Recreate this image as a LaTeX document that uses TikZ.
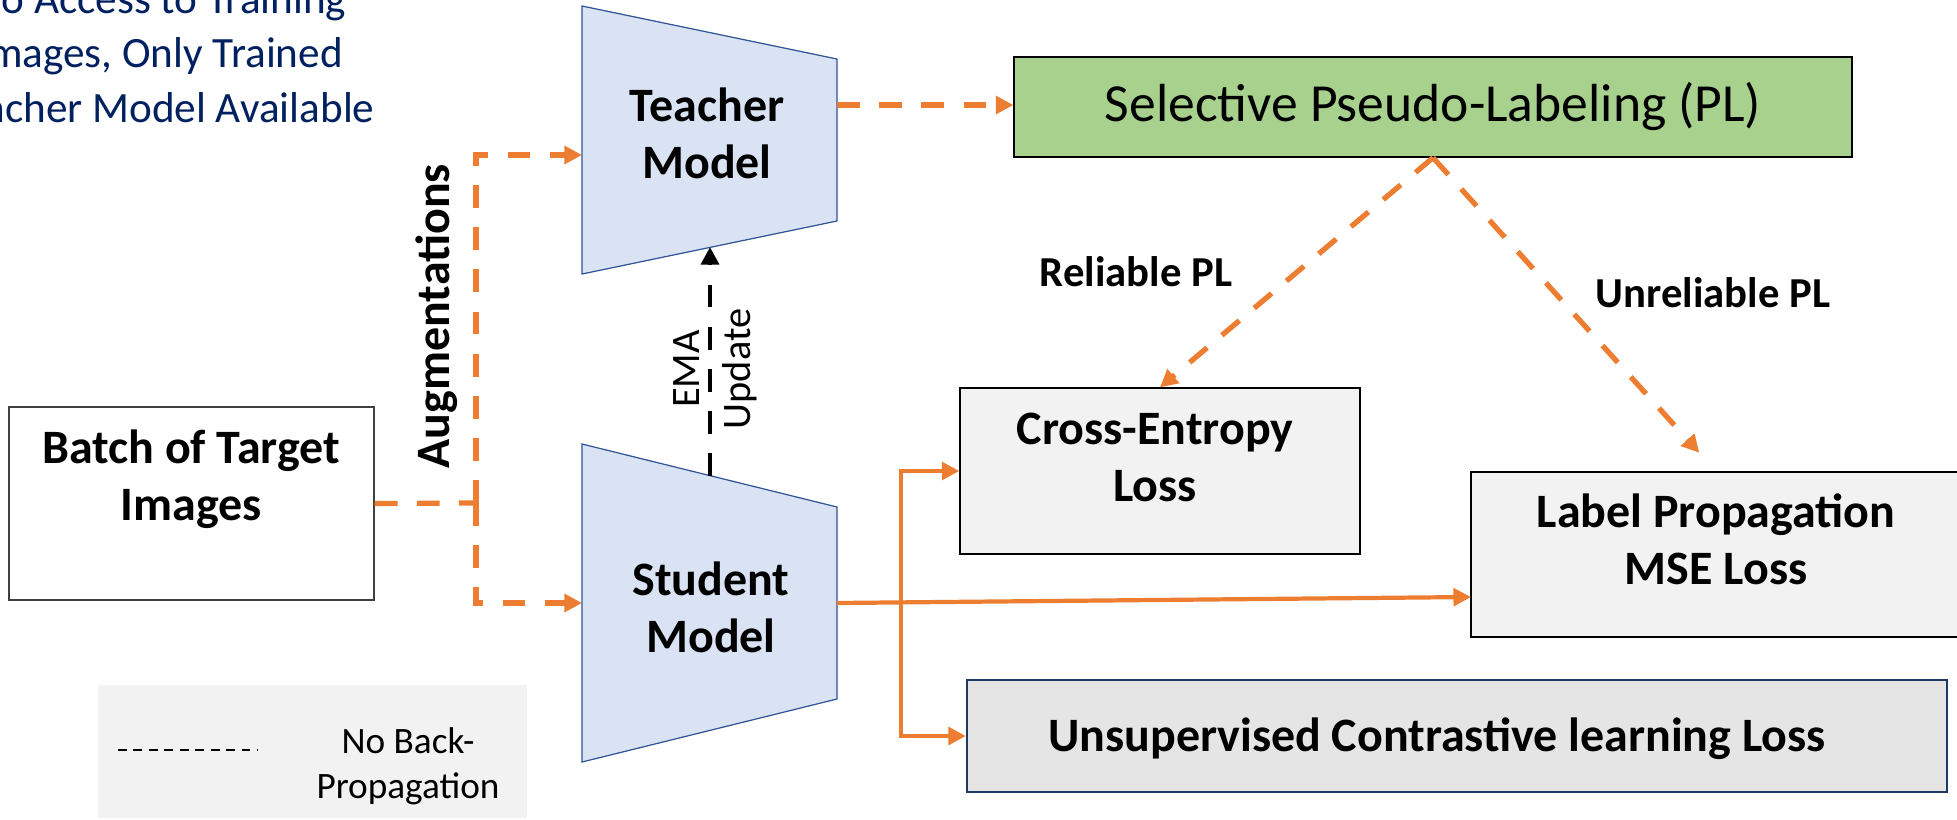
\documentclass[tikz,border=0pt]{standalone}
\usepackage{fontspec}
\setmainfont{Carlito}
\usetikzlibrary{arrows.meta}
\usetikzlibrary{positioning}

\definecolor{ppOrange}{HTML}{ED7D31}
\definecolor{ppBlueFill}{HTML}{DAE3F3}
\definecolor{ppBlueLine}{HTML}{2F5597}
\definecolor{ppGreen}{HTML}{A9D18E}
\definecolor{ppGray}{HTML}{F2F2F2}
\definecolor{ppGrayDark}{HTML}{E5E5E5}
\definecolor{ppNavy}{HTML}{1F3864}
\definecolor{ppText}{HTML}{002060}

\begin{document}
\begin{tikzpicture} [x=0.02cm, y=-0.02cm, >={Triangle[length=10pt,width=10pt]},
 lbl/.style={font=\fontsize{27.3}{32.5}\selectfont\bfseries, align=center, inner sep=0pt},
 thin lbl/.style={font=\fontsize{23}{29}\selectfont, align=center, inner sep=0pt},
 pl lbl/.style={font=\fontsize{24.3}{28}\selectfont\bfseries, inner sep=0pt},
 model/.style={draw=ppBlueLine, fill=ppBlueFill, line width=0.7pt},
 lossbox/.style={draw=black, fill=ppGray, line width=0.8pt},
 odash/.style={ppOrange, line width=3pt, dash pattern=on 13pt off 11pt},
 osolid/.style={ppOrange, line width=2.4pt},
 bdash/.style={black, line width=2.6pt, dash pattern=on 13pt off 11pt}]
\useasboundingbox (0,0) rectangle (1957,819);
\clip (0,0) rectangle (1957,819);

\node[font=\fontsize{24.6}{31}\selectfont, text=ppText, align=center, inner sep=0pt] (note) at (160,53) {No Access to Training\\Images, Only Trained\\Teacher Model Available};

\node[draw=black!75, fill=white, line width=0.8pt, minimum width=7.3cm, minimum height=3.86cm] (batch) at (191.5,503.5) {};
\node[lbl] (batchtxt) at (191,479) {Batch of Target\\Images};

\draw[model] (582,6) -- (837,59) -- (837,221) -- (582,274) -- cycle;
\node[lbl] (teacher) at (707,133) {Teacher\\Model};
\draw[model] (582,444) -- (837,507) -- (837,699) -- (582,762) -- cycle;
\node[lbl] (student) at (711,607) {Student\\Model};

\coordinate (tin) at (582,155);
\coordinate (tout) at (837,105);
\coordinate (tbot) at (710,247);
\coordinate (sin) at (582,603);
\coordinate (sout) at (837,603);
\coordinate (stop) at (710,476);
\coordinate (aug) at (476,503);
\coordinate (bus) at (901,603);
\coordinate (lpin) at (1471,597);

\node[draw=black, fill=ppGreen, line width=0.8pt, minimum width=16.76cm, minimum height=2cm, font=\fontsize{30.5}{34}\selectfont] (sel) at (1433,107) {Selective Pseudo-Labeling (PL)};

\node[lossbox, minimum width=8cm, minimum height=3.32cm] (ce) at (1160,471) {};
\node[lbl] (cetxt) at (1155,457) {Cross-Entropy\\Loss};
\node[lossbox, minimum width=9.8cm, minimum height=3.3cm] (lp) at (1716,554.5) {};
\node[lbl] (lptxt) at (1716,539) {Label Propagation\\MSE Loss};
\node[draw=ppNavy, fill=ppGrayDark, line width=1.4pt, minimum width=19.6cm, minimum height=2.24cm] (ucl) at (1457,736) {};
\node[lbl] (ucltxt) at (1437,739) {Unsupervised Contrastive learning Loss};

\node[lbl, rotate=90] (augtxt) at (437,316) {Augmentations};
\node[thin lbl, rotate=90] (ematxt) at (715,369) {EMA\\Update};
\node[pl lbl] (reltxt) at (1136,272) {Reliable PL};
\node[pl lbl] (unreltxt) at (1713,293) {Unreliable PL};

\draw[odash] (batch.east) -- (aug);
\draw[odash, ->] (aug) |- (tin);
\draw[odash, ->] (aug) |- (sin);
\draw[odash, ->] (tout) -- (tout -| sel.west);
\draw[odash, ->] (sel.south) -- (ce.north);
\draw[odash, ->, shorten >=0.5cm] (sel.south) -- (lp.north);
\draw[bdash, ->] (stop) -- (tbot);
\draw[osolid, ->] (sout) -- (lpin);
\draw[osolid, ->] (bus) |- (ce.west);
\draw[osolid, ->] (bus) |- (ucl.west);

\node[fill=ppGray, minimum width=8.58cm, minimum height=2.66cm] (legend) at (312.5,751.5) {};
\coordinate (l1) at (118,750);
\coordinate (l2) at (258,750);
\draw[black, line width=1pt, dash pattern=on 5pt off 3.8pt] (l1) -- (l2);
\node[font=\fontsize{21.2}{25.5}\selectfont, align=center, inner sep=0pt] (legendtxt) at (408,766) {No Back-\\Propagation};
\end{tikzpicture}
\end{document}
